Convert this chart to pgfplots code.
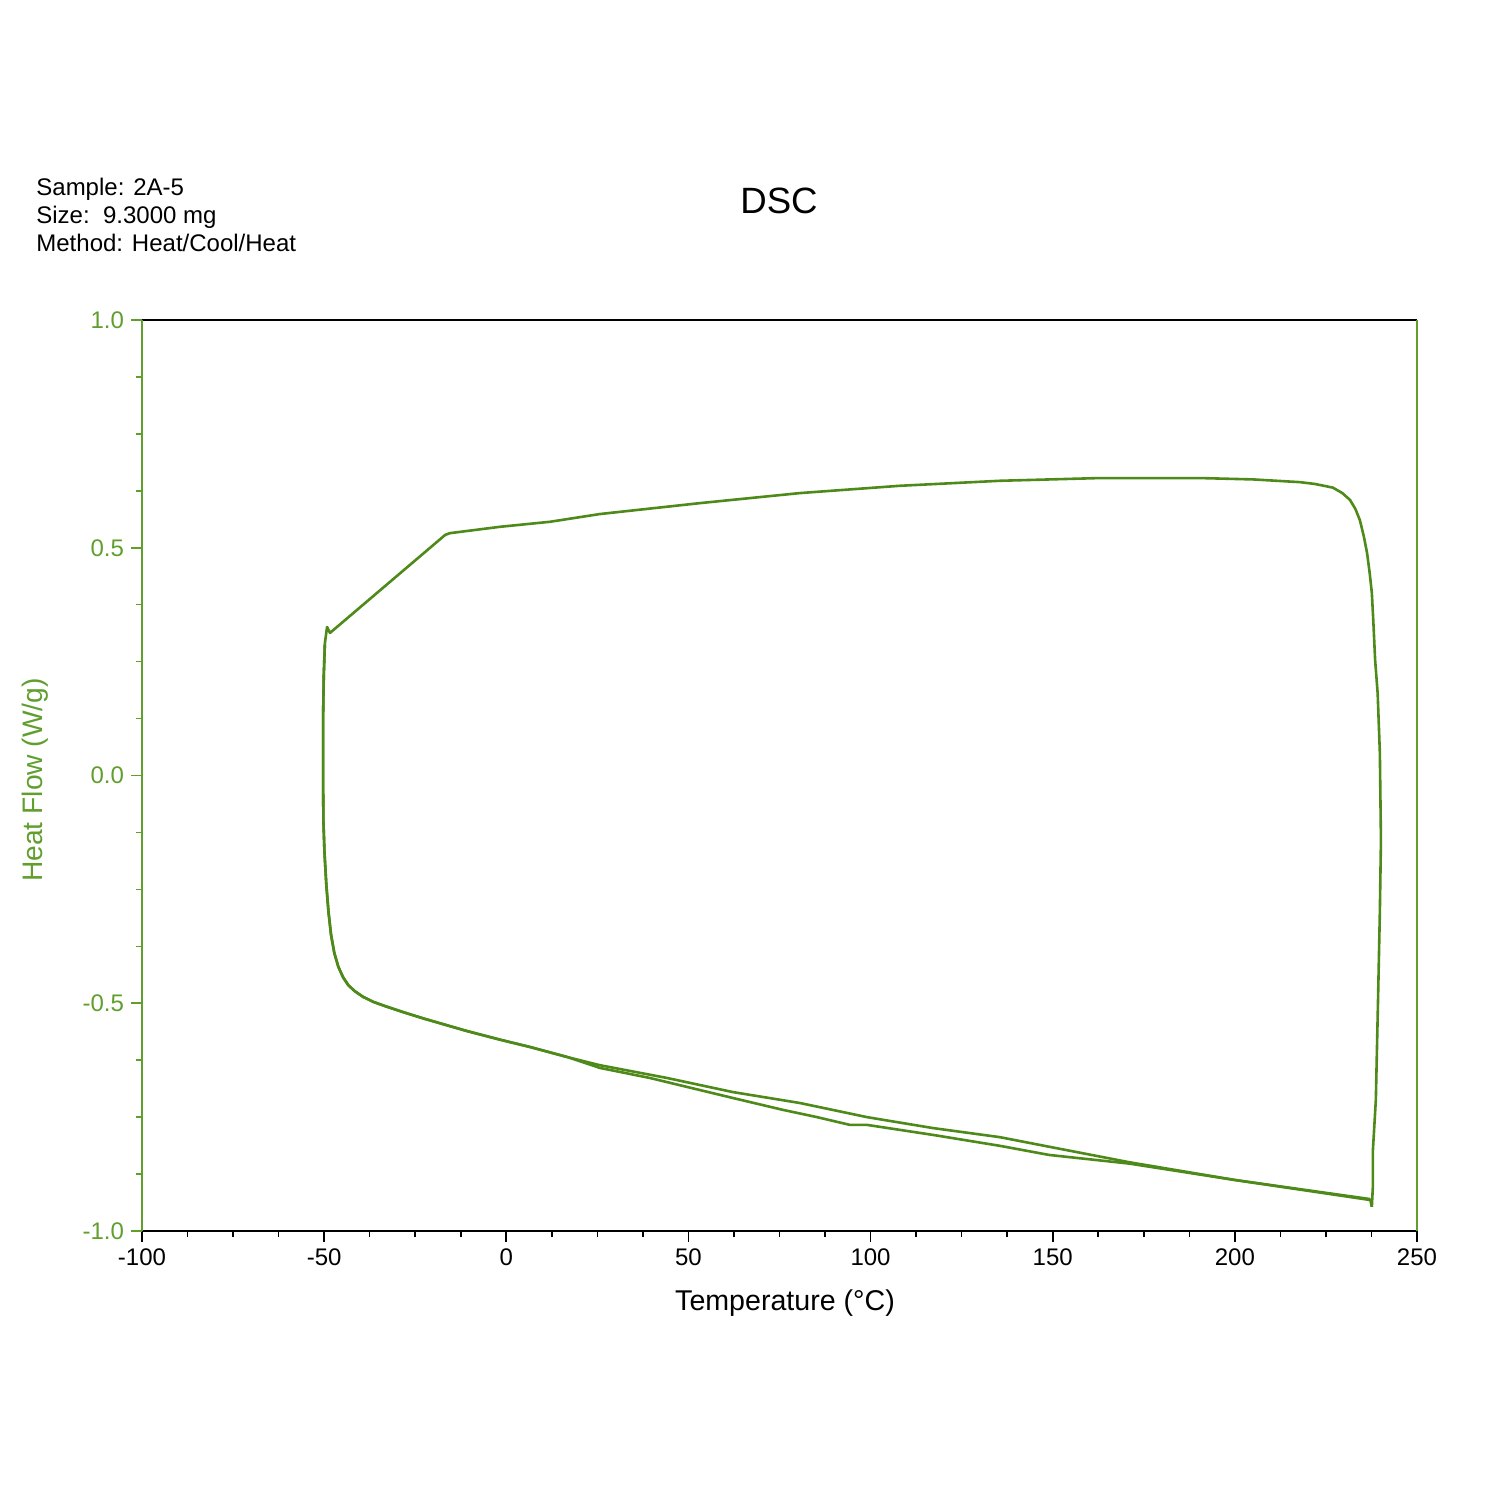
\documentclass[border=0pt]{standalone}
\usepackage{fontspec}
\setmainfont{Liberation Sans}
\usepackage{pgfplots}
\pgfplotsset{compat=1.18}
\definecolor{curve}{RGB}{78,138,26}
\definecolor{axgreen}{RGB}{96,158,46}
\begin{document}
\begin{tikzpicture}
\path[use as bounding box] (-71pt,-129pt) rectangle (675.5pt,615.5pt);
\begin{axis}[
  at={(0,0)}, anchor=south west,
  scale only axis, width=637.5pt, height=455.5pt,
  xmin=-100, xmax=250, ymin=-1, ymax=1,
  separate axis lines,
  x axis line style={black, line width=0.9pt},
  y axis line style={axgreen, line width=0.9pt},
  xtick={-100,-50,0,50,100,150,200,250},
  xticklabels={-100,-50,0,50,100,150,200,250},
  ytick={-1,-0.5,0,0.5,1},
  yticklabels={-1.0,-0.5,0.0,0.5,1.0},
  minor x tick num=3, minor y tick num=3,
  xtick pos=bottom, ytick pos=left,
  tick align=outside,
  major tick length=5.5pt, minor tick length=3pt,
  every x tick/.style={black, line width=0.8pt},
  every minor x tick/.style={black, line width=0.8pt},
  every y tick/.style={axgreen, line width=0.8pt},
  every minor y tick/.style={axgreen, line width=0.8pt},
  xticklabel style={black, font=\fontsize{12}{14}\selectfont},
  yticklabel style={axgreen, font=\fontsize{12}{14}\selectfont},
  /pgf/number format/assume math mode=true,
  clip=false,
]
% heating run 1
\addplot[curve, line width=1.3pt, line join=round] coordinates {
(-49.8,0.29) (-50.1,0.22) (-50.3,0.12) (-50.3,0.0) (-50.2,-0.10) (-49.9,-0.17)
(-49.4,-0.24) (-48.8,-0.30) (-48.1,-0.35) (-47.2,-0.39) (-46.1,-0.42)
(-44.8,-0.443) (-43.3,-0.461) (-41.5,-0.474) (-39.3,-0.486) (-36.5,-0.497)
(-33.0,-0.507) (-28.5,-0.519) (-22.9,-0.533) (-16,-0.549) (-10.8,-0.561) (-1.7,-0.580) (6.5,-0.596)
(16.7,-0.618) (25.7,-0.642) (39.4,-0.664) (62.2,-0.708) (75.9,-0.734)
(85.3,-0.750) (94.3,-0.767) (99.0,-0.767) (117.1,-0.789) (135.5,-0.813)
(149,-0.833) (171,-0.852) (200,-0.888) (237.2,-0.932) (237.6,-0.947)
};
% cooling
\addplot[curve, line width=1.3pt, line join=round] coordinates {
(237.6,-0.947) (237.9,-0.90) (237.9,-0.822) (238.7,-0.712) (239.3,-0.493)
(239.8,-0.30) (240.1,-0.142) (239.8,0.05) (239.2,0.18) (238.5,0.254)
(238.0,0.34) (237.6,0.401) (237.0,0.445) (236.3,0.488) (235.4,0.525) (234.3,0.561)
(233.1,0.585) (231.6,0.605) (229.5,0.620) (226.9,0.632) (222,0.640)
(217.9,0.644) (205,0.650) (190.4,0.653) (163,0.653) (135.5,0.647) (108,0.636)
(80.6,0.620) (53.2,0.598) (25.7,0.574) (12,0.557) (-1.7,0.546)
(-15.5,0.532) (-16.8,0.528) (-48.4,0.313) (-49.2,0.326) (-49.8,0.29)
};
% heating run 2
\addplot[curve, line width=1.3pt, line join=round] coordinates {
(-49.8,0.29) (-50.1,0.22) (-50.3,0.12) (-50.3,0.0) (-50.2,-0.10) (-49.9,-0.17)
(-49.4,-0.24) (-48.8,-0.30) (-48.1,-0.35) (-47.2,-0.39) (-46.1,-0.42)
(-44.8,-0.443) (-43.3,-0.461) (-41.5,-0.474) (-39.3,-0.486) (-36.5,-0.497)
(-33.0,-0.507) (-28.5,-0.519) (-22.9,-0.533) (-16,-0.549) (-10.8,-0.561) (-1.7,-0.580) (6.5,-0.596)
(16.7,-0.618) (25.7,-0.636) (44.1,-0.664) (62.2,-0.695) (80.6,-0.719)
(99.0,-0.750) (117.1,-0.774) (135.5,-0.794) (149,-0.815) (171,-0.849)
(200,-0.888) (237.2,-0.930)
};
\end{axis}
\node[anchor=base west, inner sep=0pt, font=\fontsize{12}{14}\selectfont] at (-53pt,517.5pt) {Sample: 2A-5};
\node[anchor=base west, inner sep=0pt, font=\fontsize{12}{14}\selectfont] at (-53pt,503.5pt) {Size:\ \ 9.3000 mg};
\node[anchor=base west, inner sep=0pt, font=\fontsize{12}{14}\selectfont] at (-53pt,489.5pt) {Method: Heat/Cool/Heat};
\node[anchor=base, font=\fontsize{18.3}{22}\selectfont] at (318.5pt,508.5pt) {DSC};
\node[anchor=base, font=\fontsize{14.3}{17}\selectfont] at (321.5pt,-39.5pt) {Temperature (°C)};
\node[rotate=90, anchor=center, text=axgreen, font=\fontsize{14.1}{17}\selectfont] at (-53.5pt,225.5pt) {Heat Flow (W/g)};
\end{tikzpicture}
\end{document}
